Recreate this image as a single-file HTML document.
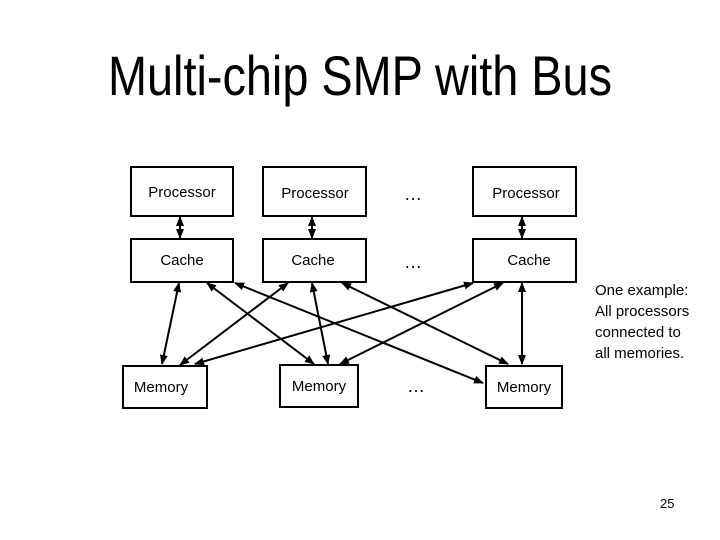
<!DOCTYPE html>
<html><head><meta charset="utf-8"><style>
html,body{margin:0;padding:0;background:#fff;}
</style></head><body>
<svg width="720" height="540" viewBox="0 0 720 540" xmlns="http://www.w3.org/2000/svg" style="display:block">
<defs>
<marker id="a" viewBox="0 0 10 10" refX="9" refY="5" markerWidth="5" markerHeight="5" orient="auto-start-reverse">
<path d="M0,1 L10,5 L0,9 z" fill="#000"/>
</marker>
</defs>
<text x="108" y="95" font-family="Liberation Sans, sans-serif" font-size="56" textLength="504" lengthAdjust="spacingAndGlyphs">Multi-chip SMP with Bus</text>
<g fill="#fff" stroke="#000" stroke-width="2">
<rect x="131" y="167" width="102" height="49"/>
<rect x="263" y="167" width="103" height="49"/>
<rect x="473" y="167" width="103" height="49"/>
<rect x="131" y="239" width="102" height="43"/>
<rect x="263" y="239" width="103" height="43"/>
<rect x="473" y="239" width="103" height="43"/>
<rect x="123" y="366" width="84" height="42"/>
<rect x="280" y="365" width="78" height="42"/>
<rect x="486" y="366" width="76" height="42"/>
</g>
<g font-family="Liberation Sans, sans-serif" font-size="15" text-anchor="middle">
<text x="182" y="197">Processor</text>
<text x="315" y="198">Processor</text>
<text x="526" y="198">Processor</text>
<text x="182" y="265">Cache</text>
<text x="313" y="265">Cache</text>
<text x="529" y="265">Cache</text>
<text x="161" y="392">Memory</text>
<text x="319" y="391">Memory</text>
<text x="524" y="392">Memory</text>
<text x="413" y="200" font-size="18">…</text>
<text x="413" y="268" font-size="18">…</text>
<text x="416" y="392" font-size="18">…</text>
</g>
<g stroke="#000" stroke-width="2" marker-start="url(#a)" marker-end="url(#a)">
<line x1="180" y1="217" x2="180" y2="238"/>
<line x1="312" y1="217" x2="312" y2="238"/>
<line x1="522" y1="217" x2="522" y2="238"/>
<line x1="179" y1="283" x2="162" y2="364"/>
<line x1="207" y1="283" x2="314" y2="364"/>
<line x1="235" y1="283" x2="483" y2="383"/>
<line x1="288" y1="283" x2="180" y2="365"/>
<line x1="312" y1="283" x2="328" y2="364"/>
<line x1="342" y1="283" x2="508" y2="364"/>
<line x1="473" y1="283" x2="195" y2="364"/>
<line x1="503" y1="283" x2="340" y2="364"/>
<line x1="522" y1="283" x2="522" y2="364"/>
</g>
<g font-family="Liberation Sans, sans-serif" font-size="15">
<text x="595" y="295">One example:</text>
<text x="595" y="316">All processors</text>
<text x="595" y="337">connected to</text>
<text x="595" y="358">all memories.</text>
<text x="660" y="508" font-size="13">25</text>
</g>
</svg>
</body></html>
